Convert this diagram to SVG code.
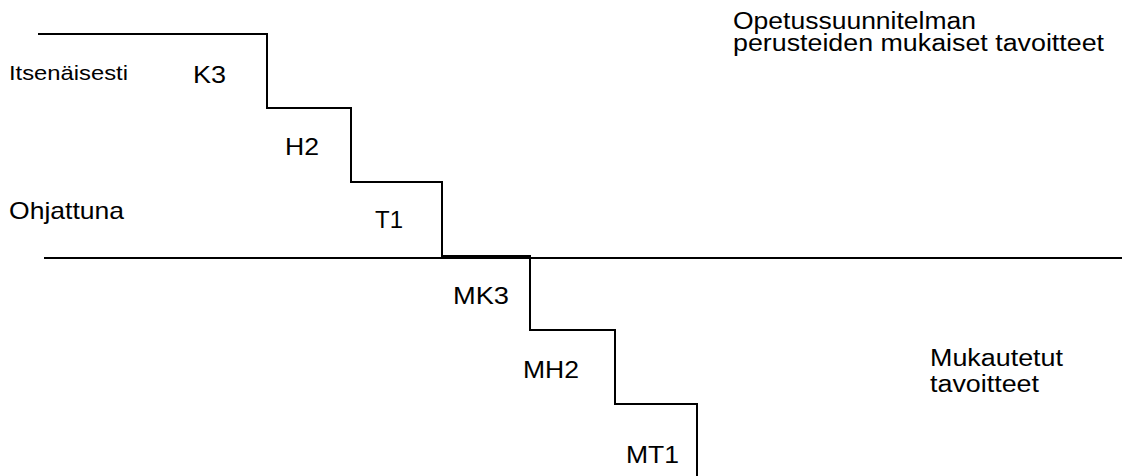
<svg xmlns="http://www.w3.org/2000/svg" width="1136" height="476" viewBox="0 0 1136 476">
<style>
.ln{fill:none;stroke:#000;stroke-width:2}
.t{font-family:"Liberation Sans",Arial,sans-serif;fill:#000}
</style>
<rect width="1136" height="476" fill="#fff"/>
<g id="connectors">
<path class="ln" d="M38 34H267V108H351V182H442V256H530V330H615V404H697V476"/>
<path class="ln" d="M44 258H1122"/>
</g>
<g id="labels-left">
<text class="t" x="9" y="80" font-size="21" textLength="119" lengthAdjust="spacingAndGlyphs">Itsenäisesti</text>
<text class="t" x="9" y="219" font-size="24" textLength="115" lengthAdjust="spacingAndGlyphs">Ohjattuna</text>
</g>
<g id="step-K3"><text class="t" x="193" y="83" font-size="24" textLength="33" lengthAdjust="spacingAndGlyphs">K3</text></g>
<g id="step-H2"><text class="t" x="285" y="155" font-size="24" textLength="34" lengthAdjust="spacingAndGlyphs">H2</text></g>
<g id="step-T1"><text class="t" x="375" y="228" font-size="24" textLength="28" lengthAdjust="spacingAndGlyphs">T1</text></g>
<g id="step-MK3"><text class="t" x="453" y="304" font-size="24" textLength="56" lengthAdjust="spacingAndGlyphs">MK3</text></g>
<g id="step-MH2"><text class="t" x="523" y="378" font-size="24" textLength="56" lengthAdjust="spacingAndGlyphs">MH2</text></g>
<g id="step-MT1"><text class="t" x="626" y="463" font-size="24" textLength="53" lengthAdjust="spacingAndGlyphs">MT1</text></g>
<g id="label-ops">
<text class="t" x="733" y="28.5" font-size="23" textLength="243" lengthAdjust="spacingAndGlyphs">Opetussuunnitelman</text>
<text class="t" x="733" y="51" font-size="23" textLength="371" lengthAdjust="spacingAndGlyphs">perusteiden mukaiset tavoitteet</text>
</g>
<g id="label-mukautetut">
<text class="t" x="930" y="366" font-size="23" textLength="133" lengthAdjust="spacingAndGlyphs">Mukautetut</text>
<text class="t" x="930" y="392" font-size="23" textLength="109" lengthAdjust="spacingAndGlyphs">tavoitteet</text>
</g>
</svg>
